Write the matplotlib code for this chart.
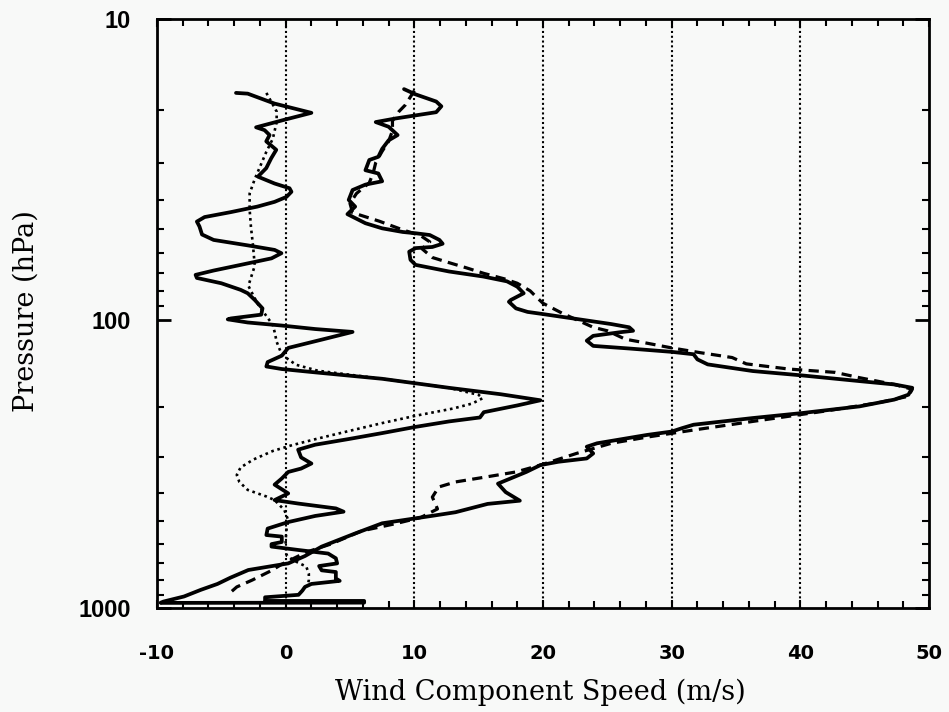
import matplotlib
matplotlib.use("Agg")
import numpy as np
import matplotlib.pyplot as plt
from matplotlib.ticker import FixedLocator, MultipleLocator, NullFormatter, FixedFormatter

# ---- data (wind component speed m/s vs pressure hPa) ----
# thick solid, left profile
a_x = [-3.86, -2.95, -0.86, 2.0, -0.07, -2.3, -1.64, -1.25, -1.51, -0.73, -1.12, -1.51, -2.16,
       -0.86, 0.3, 0.45, 0.06, -0.86, -2.2, -4.25, -6.3, -6.9, -6.7, -6.5, -5.6, -2.95, -0.86,
       -0.33, -1.1, -3.5, -5.6, -7.0, -6.9, -5.0, -3.5, -2.95, -2.4, -1.8, -1.9, -4.25, -4.5,
       -2.95, -0.33, 2.3, 5.2, 2.8, 0.2, -0.3, -1.4, -1.5, -0.3, 2.3, 7.5, 12.7, 16.7, 19.8,
       18.0, 15.4, 15.1, 12.7, 10.1, 7.5, 4.9, 2.3, 0.97, 1.2, 2.0, 1.2, 0.2, -0.3, -0.86, 0.2,
       -0.86, 1.0, 3.9, 4.5, 2.3, 0.2, -1.4, -1.5, -0.3, -0.3, -1.1, -1.1, 1.0, 3.3, 3.9, 4.0,
       2.6, 2.8, 3.9, 3.9, 4.2, 2.0, 1.5, 1.3, 1.0, -1.6, -1.6, 6.1, 6.1, -9.7]
a_p = [17.6, 17.7, 19.1, 20.5, 21.6, 22.9, 23.4, 24.3, 25.5, 27.2, 29.0, 31.3, 33.4,
       35.2, 36.5, 37.5, 39, 40.5, 42, 43.8, 45.5, 47.1, 48.9, 52, 54.2, 56.5, 58.5,
       60, 62.4, 65.6, 68.5, 70.8, 72.5, 75.5, 79.4, 81.5, 85.8, 91.5, 96, 98.8, 99.5,
       102, 104.5, 107.5, 110, 117, 125, 133, 140, 145, 148, 152, 160, 172, 181, 190,
       198, 209, 218, 225, 235, 247, 259, 271, 282, 300, 315, 328, 337, 355, 373, 400,
       422, 434, 451, 463, 479, 503, 530, 558, 565, 590, 600, 612, 629, 647, 672, 700,
       715, 740, 750, 790, 805, 825, 845, 870, 900, 918, 945, 945, 958, 960]

# thin dotted, left profile
b_x = [-1.5, -0.7, -0.7, -1.0, -1.5, -2.0, -2.4, -2.8, -2.8, -2.7, -2.55, -2.4, -2.9, -2.2,
       -1.5, -1.0, -0.86, -0.7, -0.3, 0.8, 2.5, 7.5, 12.7, 15.0, 15.3, 14.5, 13.0, 10.1, 7.5,
       4.9, 2.5, 0.5, -1.0, -2.5, -3.5, -3.8, -3.6, -2.95, -1.5, -0.86, -0.1, 0.2, 0.06, 0.0,
       0.0, 0.1, 0.8, 1.6, 1.8, 1.8, 1.7]
b_p = [17.6, 20.3, 22, 25, 27.6, 31, 34, 38, 43, 49, 56, 66, 77, 88,
       97, 104, 110, 119, 132, 143, 150, 160, 172, 182, 187, 195, 203, 215, 228,
       243, 258, 272, 285, 305, 325, 345, 365, 389, 410, 422, 457, 496, 536, 580,
       620, 660, 690, 718, 760, 800, 840]

# thick solid, right profile
c_x = [9.2, 10.1, 11.7, 12.1, 11.7, 10.1, 8.55, 7.0, 8.0, 8.7, 8.0, 7.5, 7.2, 6.5, 6.2, 7.2,
       7.5, 6.2, 5.2, 4.9, 5.4, 4.8, 6.2, 7.5, 9.1, 10.1, 11.2, 11.95, 12.2, 11.4, 10.1, 9.6,
       9.7, 10.1, 12.7, 15.35, 17.2, 18.0, 18.5, 17.5, 17.35, 17.9, 18.8, 19.8, 22.6, 25.3,
       26.7, 27.0, 25.9, 23.9, 23.4, 23.9, 26.7, 30.0, 31.7, 32.0, 32.8, 36.3, 40.1, 44.6,
       47.3, 48.7, 48.4, 47.3, 44.6, 40.1, 36.3, 31.7, 30.8, 30.0, 28.1, 24.2, 23.4, 23.9,
       23.4, 21.2, 19.8, 18.7, 16.5, 17.1, 18.2, 15.7, 13.2, 11.6, 8.8, 7.5, 5.4, 2.8, 1.5,
       0.2, -2.9, -4.3, -5.3, -6.6, -7.9, -9.5, -9.7]
c_p = [17.1, 17.8, 18.8, 19.5, 20.4, 20.9, 21.4, 22.0, 22.8, 24.3, 25.3, 27.0, 28.7, 29.4, 31.8, 32.6,
       34.6, 35.5, 37, 39.9, 42, 44.5, 47.7, 49.6, 51, 51.5, 52.2, 54.2, 55.8, 57.2, 57.7, 59.3,
       63.1, 65.6, 69, 71.7, 74.4, 77.5, 81.5, 85.8, 87, 91.5, 94, 95.3, 99.2, 103.3,
       106, 109, 110.4, 113.5, 118, 123, 125.6, 129, 131.5, 137, 142.6, 150.4, 155.7, 163,
       167.4, 172, 181.7, 189, 199.5, 210.5, 219, 231, 237.5, 244, 250.6, 268, 275.4, 290.6,
       302.5, 310.6, 319, 337, 370, 396, 424, 435, 465, 477, 498, 508, 551, 612, 660,
       700, 738, 785, 825, 865, 912, 950, 958]

# dashed, right profile
d_x = [10.0, 9.3, 8.8, 8.3, 8.3, 8.0, 7.5, 7.0, 6.8, 6.5, 5.5, 5.0, 5.2, 7.3, 9.0, 10.5, 11.2,
       10.6, 11.4, 12.7, 14.0, 15.4, 17.0, 18.0, 19.0, 19.5, 20.0, 21.5, 23.9, 25.0, 26.4, 27.8,
       30.0, 32.2, 34.7, 35.8, 39.1, 42.7, 44.6, 47.3, 48.7, 48.4, 46.0, 41.8, 36.3, 31.7, 28.1,
       25.3, 22.6, 19.8, 17.9, 15.7, 13.2, 11.9, 11.4, 11.8, 10.5, 8.5, 5.9, 3.5, 1.6, -0.3,
       -1.2, -2.6, -3.8, -4.5]
d_p = [17.3, 19.3, 20.3, 21.8, 23.5, 25.5, 27.5, 30, 32.5, 35, 38, 41, 44, 47, 50, 52.5, 55,
       58, 62, 64.5, 67, 70, 73, 75.5, 80, 84, 88, 95, 106, 109, 116.6, 119.7,
       125, 129.8, 135, 142, 148, 152, 158.6, 167.4, 174, 184, 194, 207.5, 225, 241, 255,
       268, 290.6, 319, 337, 350, 365, 380, 412, 453, 485, 510, 540, 600, 640, 705,
       745, 800, 845, 900]

grid_x = [0, 10, 20, 30, 40]
x_ticks = [-10, 0, 10, 20, 30, 40, 50]
x_ticklabels = ["-10", "0", "10", "20", "30", "40", "50"]
y_ticks = [10, 100, 1000]
y_ticklabels = ["10", "100", "1000"]
y_minor = [20, 30, 40, 50, 60, 70, 80, 90, 200, 300, 400, 500, 600, 700, 800, 900]

# the scanned axis has slightly unequal decades (upper decade a bit taller)
UP, LO = 301.0, 288.0


def fwd(p):
    p = np.asarray(p, dtype=float)
    lg = np.log10(np.clip(p, 1e-6, None))
    return np.where(lg <= 2, (lg - 1) * UP, UP + (lg - 2) * LO)


def inv(t):
    t = np.asarray(t, dtype=float)
    lg = np.where(t <= UP, 1 + t / UP, 2 + (t - UP) / LO)
    return 10 ** lg


plt.rcParams['axes.unicode_minus'] = False
bg = '#f8f9f8'
fig = plt.figure(figsize=(9.49, 7.12), dpi=100, facecolor=bg)
ax = fig.add_axes([157/949, 1-608/712, (929-157)/949, (608-19)/712])
ax.set_facecolor(bg)

for gx in grid_x:
    ax.axvline(gx, color='black', lw=1.5, dashes=(1, 1.3), zorder=1)

ax.plot(a_x, a_p, color='black', lw=2.7, solid_joinstyle='round', solid_capstyle='round', zorder=3)
ax.plot(c_x, c_p, color='black', lw=2.7, solid_joinstyle='round', solid_capstyle='round', zorder=3)
ax.plot(b_x, b_p, color='black', lw=1.9, dashes=(1, 1.4), zorder=2)
ax.plot(d_x, d_p, color='black', lw=2.3, dashes=(3.2, 2.0), zorder=2)

ax.set_yscale('function', functions=(fwd, inv))
ax.set_ylim(1000, 10)
ax.set_xlim(-10, 50)

ax.yaxis.set_major_locator(FixedLocator(y_ticks))
ax.yaxis.set_major_formatter(FixedFormatter(y_ticklabels))
ax.yaxis.set_minor_locator(FixedLocator(y_minor))
ax.yaxis.set_minor_formatter(NullFormatter())
ax.xaxis.set_major_locator(FixedLocator(x_ticks))
ax.xaxis.set_major_formatter(FixedFormatter(x_ticklabels))
ax.xaxis.set_minor_locator(MultipleLocator(2))

ax.tick_params(axis='both', which='both', direction='in', top=True, right=True, color='black')
ax.tick_params(axis='y', which='major', length=10, width=2, pad=19)
ax.tick_params(axis='y', which='minor', length=5, width=1.5)
ax.tick_params(axis='x', which='major', length=6, width=1.5, pad=26)
ax.tick_params(axis='x', which='minor', length=5, width=1.5)

for lab in ax.get_yticklabels():
    lab.set_fontfamily('Liberation Sans')
    lab.set_fontweight('bold')
    lab.set_fontsize(17)
for lab in ax.get_xticklabels():
    lab.set_fontfamily('DejaVu Sans')
    lab.set_fontweight('bold')
    lab.set_fontsize(14)

for s in ax.spines.values():
    s.set_linewidth(2)

fig.text(540/949, 1-692/712, 'Wind Component Speed (m/s)', family='DejaVu Serif',
         fontsize=19.5, ha='center', va='center')
fig.text(26/949, 1-311/712, 'Pressure (hPa)', family='DejaVu Serif',
         fontsize=19.5, ha='center', va='center', rotation=90)

fig.savefig('out.png', dpi=100, facecolor=bg)
